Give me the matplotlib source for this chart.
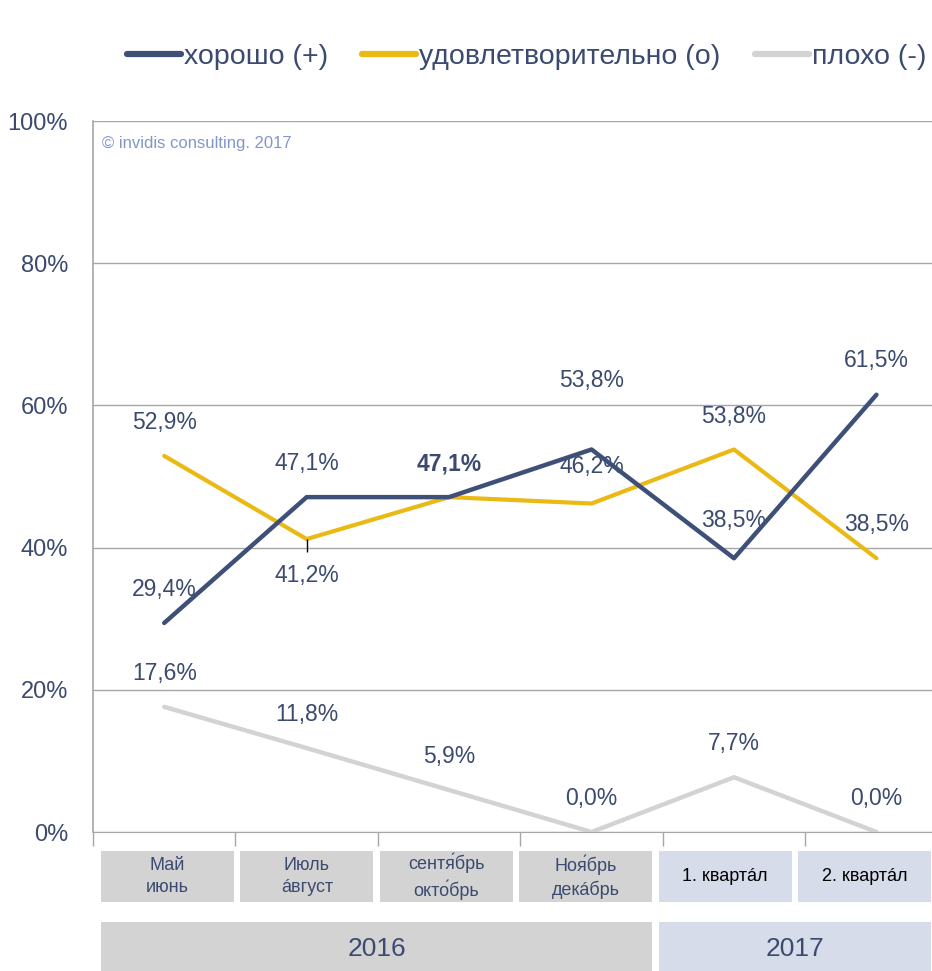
import matplotlib
matplotlib.use("Agg")
import matplotlib.pyplot as plt
from matplotlib.patches import Rectangle

plt.rcParams['font.family'] = ['Liberation Sans', 'DejaVu Sans']

# data
periods = ['Май\nиюнь', 'Июль\náвгуст', 'сентя́брь\nокто́брь', 'Ноя́брь\nдекáбрь',
           '1. квартáл', '2. квартáл']
years = ['2016', '2016', '2016', '2016', '2017', '2017']
good = [29.4, 47.1, 47.1, 53.8, 38.5, 61.5]
fair = [52.9, 41.2, 47.1, 46.2, 53.8, 38.5]
bad = [17.6, 11.8, 5.9, 0.0, 7.7, 0.0]
series_names = ['хорошо (+)', 'удовлетворительно (о)', 'плохо (-)']

txt = '#3b4a6e'
c_good = '#3f5078'
c_fair = '#eab914'
c_bad = '#d3d3d3'
box16 = '#d3d3d3'
box17 = '#d6dce9'

W, H = 932, 971
fig = plt.figure(figsize=(W / 100, H / 100), dpi=100)
ax = fig.add_axes([93 / W, (H - 832) / H, (W - 93) / W, (832 - 121) / H])

x = list(range(len(periods)))
l1, = ax.plot(x, good, color=c_good, lw=3.2, solid_capstyle='round', zorder=4)
l2, = ax.plot(x, fair, color=c_fair, lw=3.0, solid_capstyle='round', zorder=3)
l3, = ax.plot(x, bad, color=c_bad, lw=3.2, solid_capstyle='round', zorder=2)

# small black mark below the July/August point
ax.vlines(1, fair[1] - 1.8, fair[1], color='black', lw=1.0, zorder=5)

def fmt(v):
    return f'{v:.1f}%'.replace('.', ',')

# label offsets in points (up positive)
off_good = [24, 24, None, 50, 27, 25]
off_fair = [24, -26, 24, 27, 24, 24]
off_bad = [24, 24, 24, 24, 24, 24]
for i in x:
    if off_good[i] is not None:
        ax.annotate(fmt(good[i]), (i, good[i]), xytext=(0, off_good[i]),
                    textcoords='offset points', ha='center', va='center',
                    fontsize=16.5, color=txt)
    w = 'bold' if good[i] == fair[i] else 'normal'
    ax.annotate(fmt(fair[i]), (i, fair[i]), xytext=(0, off_fair[i]),
                textcoords='offset points', ha='center', va='center',
                fontsize=16.5, color=txt, fontweight=w)
    ax.annotate(fmt(bad[i]), (i, bad[i]), xytext=(0, off_bad[i]),
                textcoords='offset points', ha='center', va='center',
                fontsize=16.5, color=txt)

ax.set_xlim(-0.5, 5.39)
ax.set_ylim(0, 100)
ax.set_yticks([0, 20, 40, 60, 80, 100])
ax.set_yticklabels([f'{v}%' for v in [0, 20, 40, 60, 80, 100]], fontsize=17, color=txt)
ax.set_xticks([i - 0.5 for i in x])
ax.set_xticklabels([])
ax.tick_params(axis='x', length=10, color='#a6a6a6', width=1)
ax.tick_params(axis='y', length=0, pad=18)
ax.grid(axis='y', color='#a6a6a6', lw=1)
ax.set_axisbelow(True)
for s in ['top', 'right']:
    ax.spines[s].set_visible(False)
ax.spines['left'].set_color('#a6a6a6')
ax.spines['bottom'].set_color('#a6a6a6')
ax.spines['left'].set_linewidth(1.2)

ax.text(0.011, 0.979, '© invidis consulting. 2017', transform=ax.transAxes,
        fontsize=12, color='#8197c9', va='top', ha='left')

# category boxes (pixel units relative to the plot's left edge)
bx = fig.add_axes([93 / W, 0, (W - 93) / W, 131 / H])
bx.set_xlim(0, W - 93)
bx.set_ylim(0, 131)
bx.axis('off')
pitch, cw, x0 = 139.4, 133, 8
for i, (p, yr) in enumerate(zip(periods, years)):
    fc = box16 if yr == '2016' else box17
    left = x0 + i * pitch
    width = min(cw, (W - 93) - left)
    bx.add_patch(Rectangle((left, 69), width, 51, facecolor=fc, edgecolor='none'))
    col = txt if yr == '2016' else 'black'
    bx.text(left + width / 2, 94.5, p, ha='center', va='center', fontsize=13,
            color=col, linespacing=1.4)
for yr in ['2016', '2017']:
    idx = [i for i, y in enumerate(years) if y == yr]
    fc = box16 if yr == '2016' else box17
    left = x0 + idx[0] * pitch
    right = min(x0 + idx[-1] * pitch + cw, W - 93)
    bx.add_patch(Rectangle((left, 0), right - left, 49, facecolor=fc, edgecolor='none'))
    bx.text((left + right) / 2, 22, yr, ha='center', va='center', fontsize=19, color=txt)

fig.legend([l1, l2, l3], series_names, loc='center', bbox_to_anchor=(0.565, 1 - 57 / H),
           ncol=3, frameon=False, fontsize=20.5, labelcolor=txt, handlelength=1.9,
           handletextpad=0.1, columnspacing=1.2)
for lh in fig.legends[0].get_lines():
    lh.set_linewidth(4.5)

fig.savefig('out.png', dpi=100)
